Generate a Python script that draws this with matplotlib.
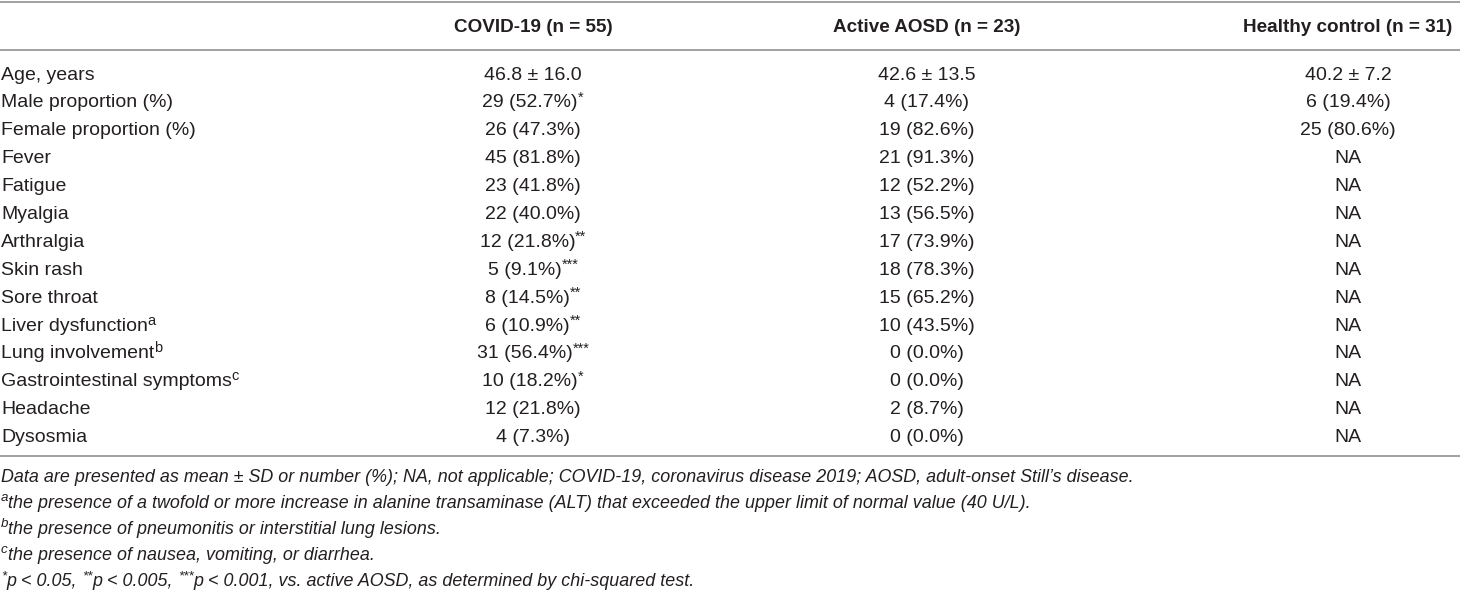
import matplotlib
matplotlib.use('Agg')
import matplotlib.pyplot as plt

plt.rcParams['font.family'] = ['Liberation Sans', 'DejaVu Sans']

headers = ['COVID-19 (n = 55)', 'Active AOSD (n = 23)', 'Healthy control (n = 31)']
labels = ['Age, years', 'Male proportion (%)', 'Female proportion (%)', 'Fever', 'Fatigue',
          'Myalgia', 'Arthralgia', 'Skin rash', 'Sore throat', 'Liver dysfunction',
          'Lung involvement', 'Gastrointestinal symptoms', 'Headache', 'Dysosmia']
label_sup = ['', '', '', '', '', '', '', '', '', 'a', 'b', 'c', '', '']
covid = ['46.8 ± 16.0', '29 (52.7%)', '26 (47.3%)', '45 (81.8%)', '23 (41.8%)', '22 (40.0%)',
         '12 (21.8%)', '5 (9.1%)', '8 (14.5%)', '6 (10.9%)', '31 (56.4%)', '10 (18.2%)',
         '12 (21.8%)', '4 (7.3%)']
covid_sig = ['', '*', '', '', '', '', '**', '***', '**', '**', '***', '*', '', '']
aosd = ['42.6 ± 13.5', '4 (17.4%)', '19 (82.6%)', '21 (91.3%)', '12 (52.2%)', '13 (56.5%)',
        '17 (73.9%)', '18 (78.3%)', '15 (65.2%)', '10 (43.5%)', '0 (0.0%)', '0 (0.0%)',
        '2 (8.7%)', '0 (0.0%)']
healthy = ['40.2 ± 7.2', '6 (19.4%)', '25 (80.6%)'] + ['NA'] * 11
footnotes = [
    ('', 'Data are presented as mean ± SD or number (%); NA, not applicable; COVID-19, '
         'coronavirus disease 2019; AOSD, adult-onset Still\u2019s disease.'),
    ('a', 'the presence of a twofold or more increase in alanine transaminase (ALT) that '
          'exceeded the upper limit of normal value (40 U/L).'),
    ('b', 'the presence of pneumonitis or interstitial lung lesions.'),
    ('c', 'the presence of nausea, vomiting, or diarrhea.'),
]
last_note = [('*', True), ('p < 0.05, ', False), ('**', True), ('p < 0.005, ', False),
             ('***', True), ('p < 0.001, vs. active AOSD, as determined by chi-squared test.', False)]

W, H = 1460, 591
TXT = '#231f20'
LINE = '#9a9a9a'
FS = 14.0
FS_HEAD = 13.6
FS_NOTE = 12.9

fig = plt.figure(figsize=(W / 100, H / 100), dpi=100)
ax = fig.add_axes([0, 0, 1, 1])
ax.set_xlim(0, W)
ax.set_ylim(H, 0)
ax.axis('off')
renderer = fig.canvas.get_renderer()


def rich(x, y, parts, ha='left', size=FS, **kw):
    # parts: list of (text, is_superscript)
    items = []
    total = 0
    for s, sup in parts:
        if not s:
            continue
        fs = size * 0.75 if sup else size
        t = ax.text(0, y - (5.5 if sup else 0), s, fontsize=fs, color=TXT,
                    va='center', ha='left', **kw)
        w = t.get_window_extent(renderer).width
        items.append((t, w))
        total += w
    x0 = x - total / 2 if ha == 'center' else x
    for t, w in items:
        t.set_x(x0)
        x0 += w


col_x = [533, 927, 1348]

# rules
for yy in (2, 50, 456):
    ax.plot([0, W], [yy, yy], color=LINE, lw=1.3, solid_capstyle='butt')

# header
for cx, h in zip(col_x, headers):
    ax.text(cx, 27, h, fontsize=FS_HEAD, fontweight='bold', color=TXT, ha='center', va='center')

# body
row0, dy = 75, 27.9
for i in range(len(labels)):
    y = row0 + i * dy
    rich(1, y, [(labels[i], False), (label_sup[i], True)])
    rich(col_x[0], y, [(covid[i], False), (covid_sig[i], True)], ha='center')
    rich(col_x[1], y, [(aosd[i], False)], ha='center')
    rich(col_x[2], y, [(healthy[i], False)], ha='center')

# footnotes
fy0, fdy = 477, 26.2
for j, (sup, s) in enumerate(footnotes):
    rich(1, fy0 + j * fdy, [(sup, True), (s, False)], size=FS_NOTE, style='italic')
rich(1, fy0 + 4 * fdy, [(s, sup) for s, sup in last_note], size=FS_NOTE, style='italic')

fig.savefig('out.png', dpi=100)
